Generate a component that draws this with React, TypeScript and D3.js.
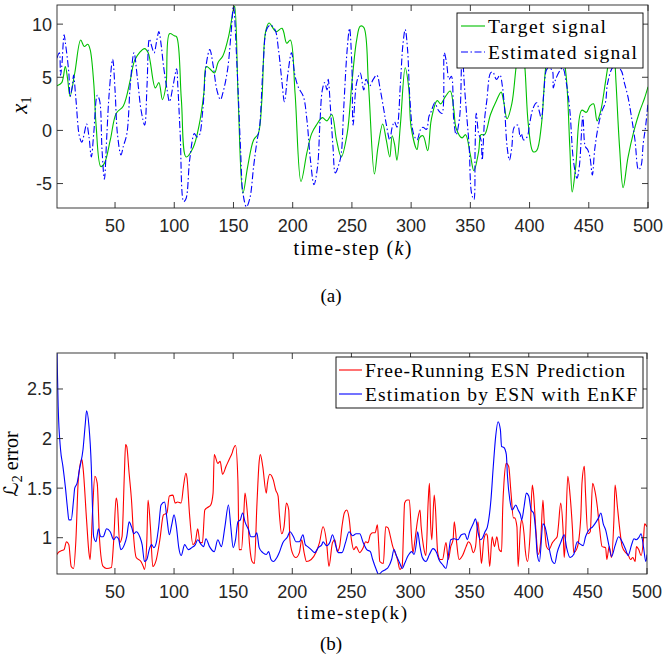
import React from "react";
import * as d3 from "d3";

// ---------- tick values ----------
const xTickValues = [50, 100, 150, 200, 250, 300, 350, 400, 450, 500];
const topYTickValues = [-5, 0, 5, 10];
const botYTickValues = [1, 1.5, 2, 2.5];

// ---------- panel (a): target signal ----------
const targetK = [1, 5, 8, 10, 12, 16, 21, 24, 27, 29, 32, 34, 38, 41, 46, 51, 57, 63, 67, 75, 78, 84, 87, 90, 93, 96, 100, 102, 106, 110, 116, 121, 125, 127, 130, 134, 137, 141, 146, 150, 151, 154, 158, 162, 167, 171, 174, 177, 180, 186, 191, 195, 198, 202, 207, 212, 216, 220, 225, 229, 233, 237, 241, 246, 250, 254, 257, 260, 264, 269, 272, 276, 279, 282, 284, 286, 288, 291, 295, 298, 300, 305, 307, 310, 314, 317, 322, 325, 329, 333, 336, 338, 343, 346, 350, 353, 357, 359, 362, 367, 372, 376, 378, 381, 385, 389, 393, 396, 399, 403, 406, 410, 413, 416, 421, 427, 431, 434, 436, 439, 444, 448, 451, 454, 457, 460, 464, 468, 470, 473, 476, 479, 483, 488, 493, 497, 500];
const targetV = [4.2, 4.5, 6.0, 4.8, 3.2, 5.4, 8.5, 7.9, 8.1, 7.6, 4.5, 0.5, -3.4, -3.1, -0.9, 1.6, 2.3, 4.8, 6.7, 7.7, 7.3, 4.0, 4.5, 2.9, 4.2, 9.1, 8.9, 8.8, 2.9, -2.5, -1.6, 0.5, 3.5, 6.0, 5.8, 5.4, 6.4, 7.0, 8.9, 11.4, 11.7, 2.9, -5.9, -3.4, -0.9, -0.3, 2.9, 9.2, 10.1, 9.3, 9.6, 8.2, 8.5, 3.5, -4.8, -2.1, -0.3, 0.5, 1.2, 0.9, 1.5, -0.9, -2.5, -0.3, 4.5, 8.5, 9.8, 9.7, 4.3, -4.1, -1.6, 0.6, -0.9, -2.5, -0.5, -1.3, -2.8, 0.6, 5.9, 4.0, 0.3, -1.8, -0.7, -0.5, -1.9, 1.0, 2.8, 2.5, 3.2, 3.7, 2.0, 0.2, -0.7, -0.4, -2.3, -3.8, -2.0, -0.4, -0.4, 1.5, 2.8, 3.6, 2.8, 1.1, 2.5, 6.3, 9.0, 6.0, 0.5, -2.0, -1.9, 0.5, 5.2, 8.0, 9.5, 8.0, 5.0, -1.6, -5.8, -3.4, 1.9, 1.7, 2.3, 2.5, 0.9, 1.8, 4.5, 7.6, 10.3, 4.5, -1.6, -5.4, -2.6, -0.1, 1.8, 3.0, 4.1];

// ---------- panel (a): estimated signal ----------
const estK = [1, 3, 4, 5, 7, 8, 11, 12, 14, 15, 17, 20, 22, 24, 26, 28, 30, 32, 35, 37, 39, 41, 43, 45, 48, 50, 52, 55, 57, 60, 63, 66, 69, 72, 75, 77, 79, 81, 83, 85, 87, 89, 91, 94, 96, 99, 102, 103, 105, 108, 110, 113, 117, 119, 121, 124, 127, 130, 133, 136, 139, 141, 145, 148, 150, 153, 156, 158, 161, 164, 167, 170, 172, 175, 178, 181, 185, 188, 191, 193, 196, 199, 202, 205, 209, 212, 215, 218, 221, 223, 225, 227, 229, 230, 232, 234, 236, 239, 241, 243, 246, 248, 250, 251, 254, 257, 260, 262, 265, 268, 271, 274, 277, 279, 282, 284, 286, 288, 291, 293, 295, 297, 299, 302, 305, 308, 310, 313, 315, 317, 320, 323, 326, 328, 330, 332, 334, 336, 338, 341, 343, 345, 347, 349, 351, 353, 354, 355, 357, 359, 360, 362, 364, 367, 369, 372, 375, 377, 379, 381, 383, 385, 387, 390, 392, 393, 395, 398, 400, 403, 406, 408, 410, 412, 415, 419, 420, 422, 426, 428, 431, 434, 437, 440, 442, 445, 447, 449, 451, 453, 455, 458, 461, 464, 466, 471, 477, 480, 483, 486, 489, 492, 494, 496, 498, 500];
const estV = [6.8, 7.3, 5.2, 6.0, 9.0, 8.3, 5.4, 3.2, 4.2, 5.2, 2.9, -0.6, -1.1, -0.3, 0.6, -0.6, -2.5, -0.3, 3.3, 2.8, -1.8, -4.6, -0.6, 3.4, 6.7, 3.8, -0.3, -2.3, -1.5, -0.3, 4.5, 7.3, 4.8, 1.9, 0.5, 4.2, 8.6, 7.9, 7.3, 8.3, 9.3, 8.0, 6.0, 3.8, 2.7, 4.2, 5.8, 4.2, -0.3, -6.7, -6.4, -2.8, -0.3, -0.6, -0.5, 1.8, 6.2, 7.6, 6.0, 3.8, 2.9, 3.5, 5.7, 9.2, 11.7, 6.0, -1.8, -5.9, -7.2, -6.3, -3.4, -0.9, 0.3, 6.0, 9.5, 9.9, 9.5, 7.6, 4.5, 2.7, 5.4, 7.3, 5.1, 4.0, 3.2, 1.0, -2.8, -5.1, -3.4, 0.7, 3.8, 4.5, 3.8, 4.8, 1.9, -1.5, -4.0, -3.2, -2.2, 1.9, 7.6, 9.6, 6.0, 0.5, 4.5, 5.4, 3.8, 4.8, 4.2, 4.8, 5.2, 3.8, 1.9, 0.6, -0.9, 0.3, 0.8, 0.3, 4.5, 8.0, 9.5, 7.6, 2.9, -0.3, -0.9, 0.1, 0.3, 0.1, 1.3, 1.8, 2.6, 1.9, 1.6, 7.3, 6.3, 4.8, 5.1, 1.0, -0.4, 1.3, 7.5, 4.2, 1.3, -1.5, -5.9, -6.5, -1.8, 1.6, -0.3, -0.9, -2.8, 1.0, 2.9, 5.4, 5.5, 4.8, 5.2, 4.2, 1.9, -1.5, -2.8, -1.6, 0.3, 0.5, -0.6, -0.3, -0.9, -0.6, 0.6, 2.1, 2.6, 1.9, 1.1, 3.5, 5.8, 5.7, 4.0, 4.8, 5.7, 5.9, 4.5, 1.9, -2.8, -4.5, -3.4, 1.3, -1.5, -1.8, -2.5, -4.2, -1.8, 0.4, 1.8, 2.6, 4.5, 6.0, 5.7, 4.5, 3.2, 1.3, -0.9, -3.7, -3.4, -1.2, 0.4, 2.6];

// ---------- panel (b): free-running ESN error ----------
const freeK = [1, 2, 5, 7, 9, 11, 13, 15, 17, 19, 22, 23, 26, 28, 29, 31, 33, 35, 37, 40, 43, 47, 49, 51, 52, 54, 56, 58, 59, 60, 62, 64, 66, 68, 72, 74, 75, 77, 78, 80, 82, 85, 88, 91, 94, 96, 99, 101, 103, 106, 108, 110, 111, 113, 116, 118, 120, 122, 124, 126, 129, 131, 133, 134, 137, 139, 141, 144, 147, 149, 150, 152, 154, 155, 157, 159, 160, 162, 164, 166, 168, 170, 172, 173, 175, 178, 179, 181, 184, 186, 188, 189, 191, 193, 195, 197, 198, 200, 203, 206, 208, 210, 212, 216, 220, 223, 226, 229, 231, 234, 236, 238, 240, 242, 244, 246, 248, 250, 252, 254, 257, 260, 262, 264, 266, 268, 270, 272, 273, 274, 277, 279, 281, 283, 285, 287, 289, 291, 293, 294, 295, 297, 299, 301, 302, 304, 306, 308, 309, 311, 313, 315, 316, 317, 318, 320, 321, 323, 325, 327, 330, 332, 334, 336, 337, 339, 341, 344, 347, 349, 351, 353, 355, 357, 359, 360, 362, 364, 365, 366, 367, 369, 371, 373, 375, 377, 378, 379, 381, 383, 385, 387, 388, 390, 391, 393, 394, 396, 397, 399, 401, 403, 404, 406, 408, 410, 412, 413, 415, 417, 420, 422, 424, 425, 427, 429, 430, 431, 433, 435, 437, 438, 441, 444, 445, 447, 448, 450, 452, 454, 456, 458, 460, 462, 465, 466, 468, 470, 472, 473, 475, 477, 479, 482, 484, 486, 488, 490, 491, 493, 495, 497, 498, 500];
const freeV = [0.83, 0.85, 0.87, 0.88, 0.96, 0.93, 0.71, 0.69, 0.98, 1.58, 1.79, 1.71, 1.18, 0.85, 0.78, 1.25, 1.62, 1.55, 0.98, 0.71, 0.69, 0.70, 0.98, 1.40, 1.35, 0.95, 1.01, 1.65, 1.94, 1.92, 1.65, 1.38, 0.98, 0.80, 0.76, 0.71, 0.68, 0.98, 1.38, 1.11, 0.71, 0.78, 0.98, 1.23, 1.25, 1.42, 1.43, 1.35, 1.36, 1.35, 1.52, 1.65, 1.60, 1.25, 0.93, 0.96, 1.09, 0.95, 0.95, 1.28, 1.31, 1.33, 1.45, 1.84, 1.75, 1.77, 1.64, 1.72, 1.80, 1.85, 1.89, 1.93, 1.58, 0.88, 0.88, 1.25, 1.45, 1.25, 0.91, 0.76, 0.74, 1.31, 1.77, 1.84, 1.72, 1.45, 1.55, 1.64, 1.58, 1.48, 1.42, 1.25, 1.04, 1.11, 1.35, 1.28, 0.98, 0.85, 0.80, 0.85, 0.98, 0.85, 0.76, 0.78, 0.85, 0.95, 1.11, 0.95, 0.71, 0.95, 0.98, 0.86, 0.91, 1.11, 1.25, 1.28, 1.20, 0.98, 0.88, 0.91, 0.85, 0.90, 0.96, 0.95, 1.03, 1.05, 1.05, 1.13, 0.95, 0.76, 0.74, 1.11, 1.10, 1.01, 0.91, 0.85, 0.78, 0.68, 0.72, 1.04, 1.35, 1.38, 1.38, 0.98, 0.85, 1.00, 1.18, 1.28, 1.11, 0.91, 0.82, 1.38, 1.55, 1.14, 0.98, 1.43, 1.31, 0.85, 0.78, 0.78, 0.95, 0.78, 0.91, 0.98, 1.16, 0.95, 0.78, 0.82, 0.91, 0.96, 0.93, 0.85, 0.91, 1.16, 0.88, 0.74, 0.98, 1.04, 1.02, 0.85, 0.71, 1.01, 0.91, 1.01, 0.88, 0.86, 1.31, 1.55, 1.75, 1.72, 1.45, 1.20, 1.20, 1.11, 0.71, 1.11, 1.18, 1.04, 0.88, 0.76, 1.01, 1.53, 1.45, 1.08, 0.83, 0.95, 1.38, 1.18, 0.91, 0.88, 0.95, 0.98, 1.01, 1.11, 1.35, 1.08, 0.80, 0.98, 1.62, 1.42, 1.08, 0.85, 0.90, 1.21, 1.55, 1.72, 1.45, 1.04, 1.06, 1.55, 1.47, 1.31, 1.08, 0.91, 0.90, 0.78, 0.91, 0.80, 1.18, 1.53, 1.31, 1.08, 0.91, 0.85, 0.83, 0.78, 0.80, 0.76, 0.91, 0.88, 0.82, 0.98, 1.14, 1.11];

// ---------- panel (b): ESN with EnKF error ----------
const enkfK = [1, 2, 4, 6, 8, 10, 11, 13, 15, 16, 18, 20, 23, 25, 26, 28, 30, 31, 32, 34, 36, 38, 40, 43, 46, 49, 51, 53, 55, 58, 60, 62, 64, 66, 68, 71, 73, 75, 77, 79, 81, 83, 85, 87, 89, 92, 94, 96, 98, 100, 102, 104, 106, 109, 112, 115, 118, 120, 123, 125, 127, 130, 134, 137, 140, 143, 146, 148, 150, 152, 154, 156, 158, 160, 163, 165, 168, 170, 172, 175, 178, 180, 182, 184, 187, 189, 192, 196, 198, 201, 203, 206, 209, 211, 213, 216, 219, 222, 225, 226, 229, 232, 234, 237, 239, 242, 245, 248, 251, 254, 257, 260, 263, 266, 268, 271, 273, 276, 279, 281, 284, 286, 288, 291, 293, 295, 298, 301, 303, 305, 306, 308, 310, 313, 316, 319, 322, 324, 327, 330, 332, 334, 337, 340, 343, 346, 348, 350, 353, 355, 357, 359, 361, 363, 365, 368, 370, 372, 374, 376, 377, 379, 381, 382, 384, 386, 389, 391, 393, 394, 396, 398, 400, 402, 404, 406, 407, 409, 412, 414, 416, 418, 420, 422, 424, 427, 430, 432, 435, 438, 441, 443, 446, 448, 451, 454, 457, 459, 461, 463, 465, 468, 470, 473, 476, 479, 482, 484, 487, 489, 491, 493, 495, 497, 499, 500];
const enkfV = [2.86, 2.32, 1.89, 1.72, 1.52, 1.28, 1.18, 1.18, 1.38, 1.50, 1.55, 1.69, 1.89, 2.16, 2.28, 2.13, 1.72, 1.31, 1.01, 0.96, 1.09, 1.01, 1.01, 1.09, 1.06, 0.98, 1.01, 0.99, 0.88, 0.93, 1.01, 1.16, 1.11, 1.04, 1.06, 1.01, 0.93, 0.76, 0.78, 0.88, 0.93, 0.90, 0.95, 1.11, 1.33, 1.36, 1.19, 1.03, 1.13, 1.23, 1.11, 0.90, 0.82, 0.93, 0.88, 0.90, 0.93, 0.98, 0.93, 0.91, 0.99, 0.91, 0.86, 0.98, 0.91, 1.11, 1.33, 1.11, 0.90, 0.98, 1.16, 1.18, 1.25, 1.16, 1.08, 1.01, 1.01, 1.05, 0.90, 0.85, 0.83, 0.86, 0.78, 0.76, 0.80, 0.85, 0.95, 1.01, 1.06, 1.01, 0.96, 0.96, 1.03, 0.93, 0.91, 0.88, 0.85, 0.90, 0.93, 0.96, 0.92, 0.96, 1.03, 0.91, 0.85, 0.85, 0.95, 1.06, 1.02, 1.04, 1.04, 0.95, 0.88, 0.86, 0.78, 0.68, 0.63, 0.66, 0.68, 0.70, 0.78, 0.88, 0.82, 0.74, 0.69, 0.74, 0.82, 0.86, 0.83, 0.95, 1.06, 0.91, 0.80, 0.76, 0.83, 0.89, 0.85, 0.78, 0.73, 0.69, 0.82, 0.98, 0.99, 0.98, 1.03, 1.04, 0.98, 1.06, 1.14, 1.19, 1.06, 0.98, 1.00, 1.06, 1.11, 1.38, 1.72, 2.02, 2.17, 2.09, 1.92, 1.91, 1.84, 1.62, 1.38, 1.28, 1.33, 1.28, 1.23, 1.18, 1.31, 1.45, 1.42, 1.28, 1.25, 1.04, 0.85, 0.76, 1.14, 1.10, 0.98, 0.85, 0.76, 0.74, 0.85, 0.95, 1.03, 0.90, 0.80, 0.83, 0.96, 0.94, 0.92, 1.01, 1.08, 1.11, 1.16, 1.20, 1.25, 1.14, 1.08, 0.91, 0.81, 0.92, 1.01, 0.96, 0.88, 0.82, 0.93, 0.99, 0.98, 1.00, 1.04, 0.91, 0.76, 0.83];

const legendA = ["Target signal", "Estimated signal"];
const legendB = ["Free-Running ESN Prediction", "Estimation by ESN with EnKF"];

const AX = "#262626";
const TICK_FONT = "'Liberation Sans', Arial, Helvetica, sans-serif";
const SERIF = "'Liberation Serif', 'Times New Roman', serif";

type Box = { l: number; r: number; t: number; b: number };

function Frame({ box, x, y, yTicks }: { box: Box; x: any; y: any; yTicks: number[] }) {
  const tl = 6;
  return (
    <g>
      <rect x={box.l} y={box.t} width={box.r - box.l} height={box.b - box.t} fill="none" stroke={AX} strokeWidth={0.9} />
      {xTickValues.map((v) => (
        <g key={"x" + v}>
          <line x1={x(v)} x2={x(v)} y1={box.b} y2={box.b - tl} stroke={AX} strokeWidth={0.9} />
          <line x1={x(v)} x2={x(v)} y1={box.t} y2={box.t + tl} stroke={AX} strokeWidth={0.9} />
          <text x={x(v)} y={box.b + 24} textAnchor="middle" fontFamily={TICK_FONT} fontSize={18} fill={AX}>
            {v}
          </text>
        </g>
      ))}
      {yTicks.map((v) => (
        <g key={"y" + v}>
          <line x1={box.l} x2={box.l + tl} y1={y(v)} y2={y(v)} stroke={AX} strokeWidth={0.9} />
          <line x1={box.r} x2={box.r - tl} y1={y(v)} y2={y(v)} stroke={AX} strokeWidth={0.9} />
          <text x={box.l - 5} y={y(v) + 6.5} textAnchor="end" fontFamily={TICK_FONT} fontSize={18} fill={AX}>
            {String(v)}
          </text>
        </g>
      ))}
    </g>
  );
}

export default function App() {
  const W = 663;
  const H = 655;
  const A: Box = { l: 57, r: 648, t: 5, b: 208 };
  const B: Box = { l: 57, r: 647, t: 353, b: 574 };

  const xA = d3.scaleLinear().domain([1, 500]).range([A.l, A.r]);
  const yA = d3.scaleLinear().domain([-7.3, 11.8]).range([A.b, A.t]);
  const xB = d3.scaleLinear().domain([1, 500]).range([B.l, B.r]);
  const yB = d3.scaleLinear().domain([0.634, 2.863]).range([B.b, B.t]);

  const mk = (ks: number[], vs: number[], x: any, y: any, curve: any) =>
    d3
      .line<number>()
      .x((k) => x(k))
      .y((_, i) => y(vs[i]))
      .curve(curve)(ks) || "";

  const pTarget = mk(targetK, targetV, xA, yA, d3.curveCatmullRom.alpha(0.5));
  const pEst = mk(estK, estV, xA, yA, d3.curveCatmullRom.alpha(0.5));
  const pFree = mk(freeK, freeV, xB, yB, d3.curveMonotoneX);
  const pEnkf = mk(enkfK, enkfV, xB, yB, d3.curveMonotoneX);

  const GREEN = "#00c000";
  const BLUE = "#0000ff";
  const RED = "#ff0000";
  const DASHDOT = "7,2.5,1.5,2.5";

  return (
    <svg width={W} height={H} viewBox={`0 0 ${W} ${H}`} style={{ position: "absolute", left: 0, top: 0, background: "#fff" }}>
      <defs>
        <clipPath id="clipA">
          <rect x={A.l} y={A.t} width={A.r - A.l} height={A.b - A.t} />
        </clipPath>
        <clipPath id="clipB">
          <rect x={B.l} y={B.t} width={B.r - B.l} height={B.b - B.t} />
        </clipPath>
      </defs>
      <rect x={0} y={0} width={W} height={H} fill="#fff" />

      {/* Panel (a) */}
      <g clipPath="url(#clipA)">
        <path d={pTarget} fill="none" stroke={GREEN} strokeWidth={1.1} />
        <path d={pEst} fill="none" stroke={BLUE} strokeWidth={1.1} strokeDasharray={DASHDOT} />
      </g>
      <Frame box={A} x={xA} y={yA} yTicks={topYTickValues} />
      <g>
        <rect x={457} y={13} width={186} height={55} fill="#fff" stroke="#000" strokeWidth={0.9} />
        <line x1={461} x2={485} y1={26} y2={26} stroke={GREEN} strokeWidth={1.1} />
        <line x1={461} x2={485} y1={52} y2={52} stroke={BLUE} strokeWidth={1.1} strokeDasharray={DASHDOT} />
        <text x={488} y={32.5} fontFamily={SERIF} fontSize={19.5} textLength={118} lengthAdjust="spacing" fill="#000">{legendA[0]}</text>
        <text x={488} y={58.5} fontFamily={SERIF} fontSize={19.5} textLength={149} lengthAdjust="spacing" fill="#000">{legendA[1]}</text>
      </g>
      <text x={(A.l + A.r) / 2} y={255} textAnchor="middle" fontFamily={SERIF} fontSize={20} textLength={118} lengthAdjust="spacing" fill="#000">
        time-step (<tspan fontStyle="italic">k</tspan>)
      </text>
      <text transform={`translate(27, 105) rotate(-90)`} textAnchor="middle" fontFamily={SERIF} fontSize={23} fill="#000">
        <tspan fontStyle="italic">x</tspan>
        <tspan fontSize={15} dy={4}>1</tspan>
      </text>
      <text x={331} y={302} textAnchor="middle" fontFamily={SERIF} fontSize={19} fill="#000">(a)</text>

      {/* Panel (b) */}
      <g clipPath="url(#clipB)">
        <path d={pFree} fill="none" stroke={RED} strokeWidth={1.1} />
        <path d={pEnkf} fill="none" stroke={BLUE} strokeWidth={1.1} />
      </g>
      <Frame box={B} x={xB} y={yB} yTicks={botYTickValues} />
      <g>
        <rect x={336} y={357} width={307} height={51} fill="#fff" stroke="#000" strokeWidth={0.9} />
        <line x1={339} x2={362} y1={370} y2={370} stroke={RED} strokeWidth={1.1} />
        <line x1={339} x2={362} y1={394} y2={394} stroke={BLUE} strokeWidth={1.1} />
        <text x={365} y={376.5} fontFamily={SERIF} fontSize={19.5} textLength={260} lengthAdjust="spacing" fill="#000">{legendB[0]}</text>
        <text x={365} y={400.5} fontFamily={SERIF} fontSize={19.5} textLength={272} lengthAdjust="spacing" fill="#000">{legendB[1]}</text>
      </g>
      <text x={(B.l + B.r) / 2} y={619} textAnchor="middle" fontFamily={SERIF} fontSize={19} textLength={110} lengthAdjust="spacing" fill="#000">
        time-step(k)
      </text>
      <text transform={`translate(18, 464) rotate(-90)`} textAnchor="middle" fontFamily={SERIF} fontSize={20} fill="#000">
        <tspan fontFamily="'DejaVu Sans', sans-serif" fontStyle="italic">ℒ</tspan>
        <tspan fontSize={14} dy={4}>2</tspan>
        <tspan dy={-4}> error</tspan>
      </text>
      <text x={331} y={650} textAnchor="middle" fontFamily={SERIF} fontSize={19} fill="#000">(b)</text>
    </svg>
  );
}
